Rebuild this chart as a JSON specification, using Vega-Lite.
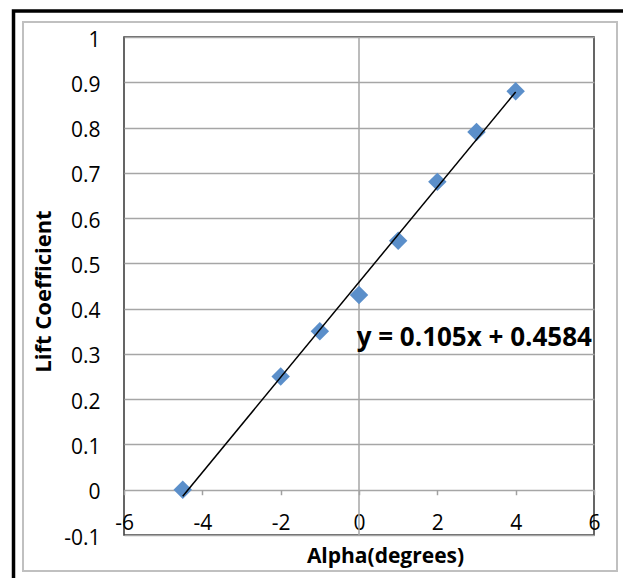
{
  "$schema": "https://vega.github.io/schema/vega-lite/v6.json",
  "width": 470,
  "height": 498,
  "autosize": {"type": "none"},
  "padding": {"left": 124, "top": 37, "right": 29, "bottom": 43},
  "background": "white",
  "config": {
    "view": {"stroke": "#333333", "strokeWidth": 1.5},
    "font": "Open Sans"
  },
  "data": {
    "values": [
      {"alpha": -4.5, "cl": 0.0},
      {"alpha": -2, "cl": 0.25},
      {"alpha": -1, "cl": 0.35},
      {"alpha": 0, "cl": 0.43},
      {"alpha": 1, "cl": 0.55},
      {"alpha": 2, "cl": 0.68},
      {"alpha": 3, "cl": 0.79},
      {"alpha": 4, "cl": 0.88}
    ]
  },
  "layer": [
    {
      "data": {"values": [{}]},
      "mark": {"type": "rect", "filled": false, "stroke": "#c0c0c0", "strokeWidth": 2},
      "encoding": {
        "x": {"datum": -8.579, "type": "quantitative"},
        "x2": {"datum": 6.587},
        "y": {"datum": 1.0331, "type": "quantitative"},
        "y2": {"datum": -0.1795}
      }
    },
    {
      "data": {"values": [{}]},
      "mark": {"type": "rect", "filled": false, "stroke": "#000000", "strokeWidth": 3.5},
      "encoding": {
        "x": {"datum": -8.821, "type": "quantitative"},
        "x2": {"datum": 9},
        "y": {"datum": 1.0574, "type": "quantitative"},
        "y2": {"datum": -0.4}
      }
    },
    {
      "data": {"values": [{}]},
      "mark": {"type": "rule", "color": "#a6a6a6", "strokeWidth": 1.5},
      "encoding": {
        "x": {"datum": 0, "type": "quantitative"}
      }
    },
    {
      "mark": {"type": "point", "shape": "diamond", "filled": true, "size": 340, "color": "#5b8fca", "opacity": 1},
      "encoding": {
        "x": {
          "field": "alpha",
          "type": "quantitative",
          "scale": {"domain": [-6, 6], "nice": false, "zero": false},
          "axis": {
            "values": [-6, -4, -2, 0, 2, 4, 6],
            "orient": "bottom",
            "offset": -45.27,
            "domain": false,
            "grid": false,
            "ticks": true,
            "tickSize": 5,
            "tickColor": "#a0a0a0",
            "tickWidth": 1.5,
            "labelFontSize": 21,
            "labelColor": "#000000",
            "labelPadding": 18,
            "labelFlush": false,
            "labelOverlap": false,
            "format": "~g",
            "labelExpr": "replace(datum.label, '\u2212', '-')",
            "title": "Alpha(degrees)",
            "titleFontSize": 21,
            "titleFontWeight": "bold",
            "titleColor": "#000000",
            "titleX": 261,
            "titleY": 67,
            "titleBaseline": "middle",
            "titleAlign": "center"
          }
        },
        "y": {
          "field": "cl",
          "type": "quantitative",
          "scale": {"domain": [-0.1, 1], "nice": false, "zero": false},
          "axis": {
            "values": [-0.1, 0, 0.1, 0.2, 0.3, 0.4, 0.5, 0.6, 0.7, 0.8, 0.9, 1],
            "domain": false,
            "ticks": false,
            "grid": true,
            "gridColor": "#a6a6a6",
            "gridWidth": 1.5,
            "labelPadding": 24,
            "labelFontSize": 21,
            "labelColor": "#000000",
            "labelFlush": false,
            "labelOverlap": false,
            "labelOffset": 3,
            "format": "~g",
            "labelExpr": "replace(datum.label, '\u2212', '-')",
            "title": "Lift Coefficient",
            "titleFontSize": 22,
            "titleFontWeight": "bold",
            "titleColor": "#000000",
            "titleX": -81,
            "titleY": 254,
            "titleBaseline": "middle",
            "titleAlign": "center"
          }
        }
      }
    },
    {
      "transform": [{"regression": "cl", "on": "alpha"}],
      "mark": {"type": "line", "color": "#000000", "strokeWidth": 1.5},
      "encoding": {
        "x": {"field": "alpha", "type": "quantitative"},
        "y": {"field": "cl", "type": "quantitative"}
      }
    },
    {
      "data": {"values": [{"label": "y = 0.105x + 0.4584"}]},
      "mark": {"type": "text", "align": "left", "baseline": "middle", "fontSize": 26, "fontWeight": "bold", "color": "#000000"},
      "encoding": {
        "x": {"datum": -0.059, "type": "quantitative"},
        "y": {"datum": 0.3351, "type": "quantitative"},
        "text": {"field": "label"}
      }
    }
  ]
}
